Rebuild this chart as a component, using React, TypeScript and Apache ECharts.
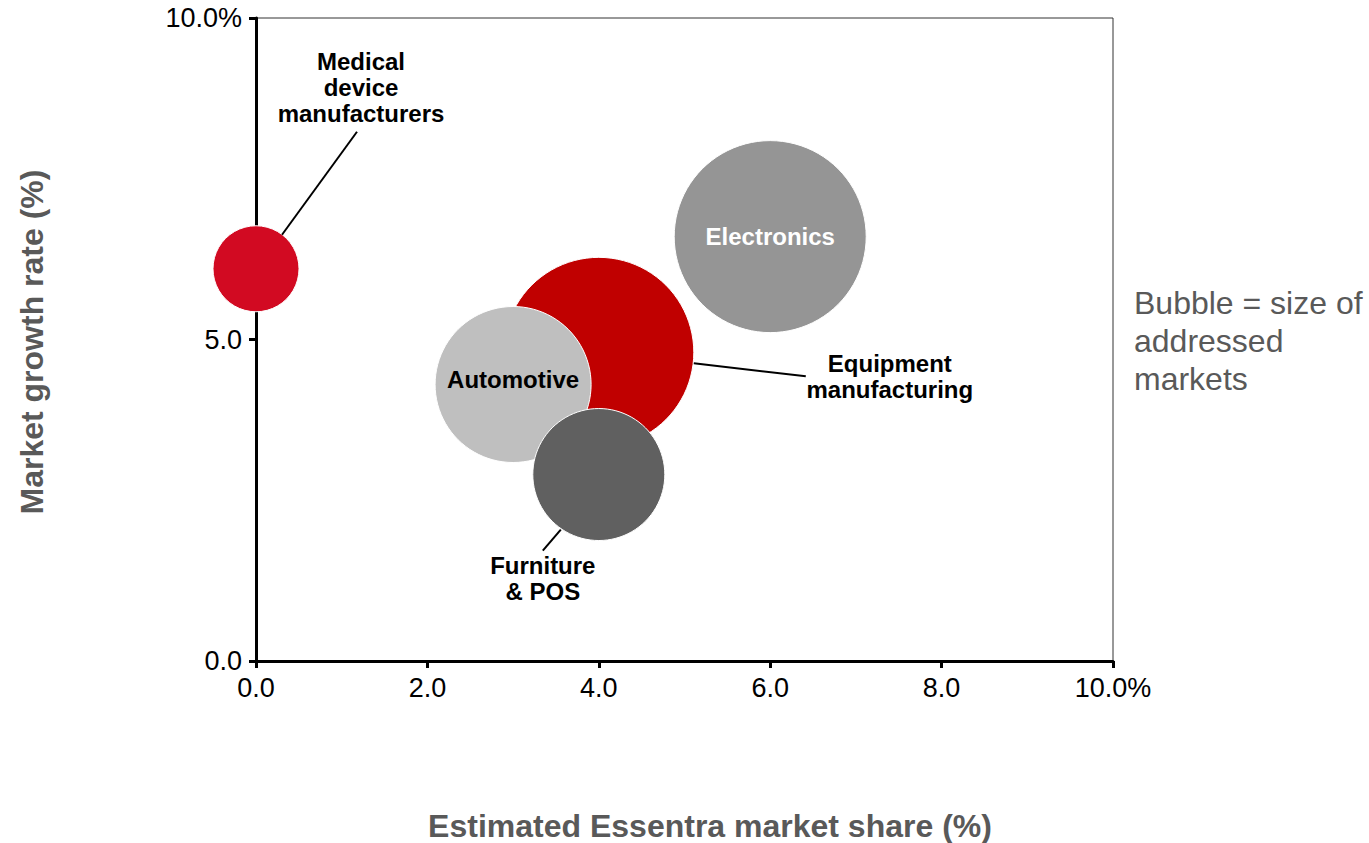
import React, { useEffect, useRef } from "react";
import * as echarts from "echarts";

// Market segments: share (x), growth (y), relative size of addressed market (bubble radius)
const segments = [
  "Medical device manufacturers",
  "Electronics",
  "Equipment manufacturing",
  "Automotive",
  "Furniture & POS",
];
const marketShare = [0.0, 6.0, 4.0, 3.0, 4.0];
const growthRate = [6.1, 6.6, 4.8, 4.3, 2.9];
const marketSize = [43, 96, 95, 78, 66];
const bubbleColors = ["#D20A22", "#959595", "#C00000", "#BFBFBF", "#606060"];

const xTicks = [0, 2, 4, 6, 8, 10];
const yTicks = [0, 5, 10];

const FONT = "'Liberation Sans', Arial, sans-serif";

// Callout labels placed outside their bubbles, with a leader line
const callouts = [
  { idx: 0, text: "Medical\ndevice\nmanufacturers", dx: 105, dy: -181, l: [26, -34, 101, -137] },
  { idx: 2, text: "Equipment\nmanufacturing", dx: 291, dy: 24, l: [95, 11, 207, 24] },
  { idx: 4, text: "Furniture\n& POS", dx: -56, dy: 104, l: [-38, 55, -56, 76] },
];

export default function App() {
  const ref = useRef<HTMLDivElement>(null);

  useEffect(() => {
    if (!ref.current) return;
    const chart = echarts.init(ref.current, undefined, { renderer: "svg" });

    const data = segments.map((name, i) => ({
      name,
      value: [marketShare[i], growthRate[i], marketSize[i]],
      itemStyle: { color: bubbleColors[i] },
      label:
        i === 1
          ? { show: true, color: "#ffffff" }
          : i === 3
          ? { show: true, color: "#000000", offset: [0, -5] }
          : { show: false },
    }));

    const tickFmt = (last: number) => (v: number) => (v === last ? v.toFixed(1) + "%" : v.toFixed(1));

    chart.setOption({
      animation: false,
      backgroundColor: "#ffffff",
      grid: {
        left: 256,
        right: 256,
        top: 18,
        bottom: 182,
        show: true,
        borderColor: "#333333",
        borderWidth: 1,
      },
      xAxis: {
        type: "value",
        min: 0,
        max: 10,
        interval: 2,
        splitLine: { show: false },
        axisLine: { show: true, lineStyle: { color: "#000", width: 3 } },
        axisTick: { show: true, length: 7, lineStyle: { color: "#000", width: 3 } },
        axisLabel: {
          margin: 13,
          color: "#000",
          fontFamily: FONT,
          fontSize: 27,
          formatter: tickFmt(xTicks[xTicks.length - 1]),
        },
      },
      yAxis: {
        type: "value",
        min: 0,
        max: 10,
        interval: 5,
        splitLine: { show: false },
        axisLine: { show: true, lineStyle: { color: "#000", width: 3 } },
        axisTick: { show: true, length: 7, lineStyle: { color: "#000", width: 3 } },
        axisLabel: {
          margin: 14,
          color: "#000",
          fontFamily: FONT,
          fontSize: 27,
          formatter: tickFmt(yTicks[yTicks.length - 1]),
        },
      },
      series: [
        {
          type: "scatter",
          data,
          symbolSize: (val: number[]) => val[2] * 2,
          itemStyle: { opacity: 1, borderColor: "#ffffff", borderWidth: 1 },
          label: {
            position: "inside",
            fontFamily: FONT,
            fontSize: 24,
            fontWeight: "bold",
            formatter: (p: any) => p.name,
          },
          emphasis: { disabled: true },
        },
      ],
    });

    const graphic: any[] = [];
    callouts.forEach((c) => {
      const p = chart.convertToPixel({ seriesIndex: 0 }, [marketShare[c.idx], growthRate[c.idx]]) as number[];
      graphic.push({
        type: "line",
        shape: { x1: p[0] + c.l[0], y1: p[1] + c.l[1], x2: p[0] + c.l[2], y2: p[1] + c.l[3] },
        style: { stroke: "#000", lineWidth: 2 },
        z: 10,
      });
      graphic.push({
        type: "text",
        x: p[0] + c.dx,
        y: p[1] + c.dy,
        style: {
          text: c.text,
          fill: "#000",
          font: `bold 24px ${FONT}`,
          align: "center",
          verticalAlign: "middle",
          lineHeight: 26,
        },
        z: 10,
      });
    });

    graphic.push({
      type: "text",
      x: 710,
      y: 826,
      style: {
        text: "Estimated Essentra market share (%)",
        fill: "#595959",
        font: `bold 32px ${FONT}`,
        align: "center",
        verticalAlign: "middle",
      },
    });
    graphic.push({
      type: "text",
      x: 32,
      y: 342,
      rotation: Math.PI / 2,
      style: {
        text: "Market growth rate (%)",
        fill: "#595959",
        font: `bold 32px ${FONT}`,
        align: "center",
        verticalAlign: "middle",
      },
    });
    graphic.push({
      type: "text",
      x: 1134,
      y: 341,
      style: {
        text: "Bubble = size of\naddressed\nmarkets",
        fill: "#595959",
        font: `32px ${FONT}`,
        align: "left",
        verticalAlign: "middle",
        lineHeight: 38,
      },
    });

    chart.setOption({ graphic });

    return () => chart.dispose();
  }, []);

  return (
    <div
      ref={ref}
      style={{ position: "fixed", left: 0, top: 0, width: 1369, height: 843, background: "#fff" }}
    />
  );
}
